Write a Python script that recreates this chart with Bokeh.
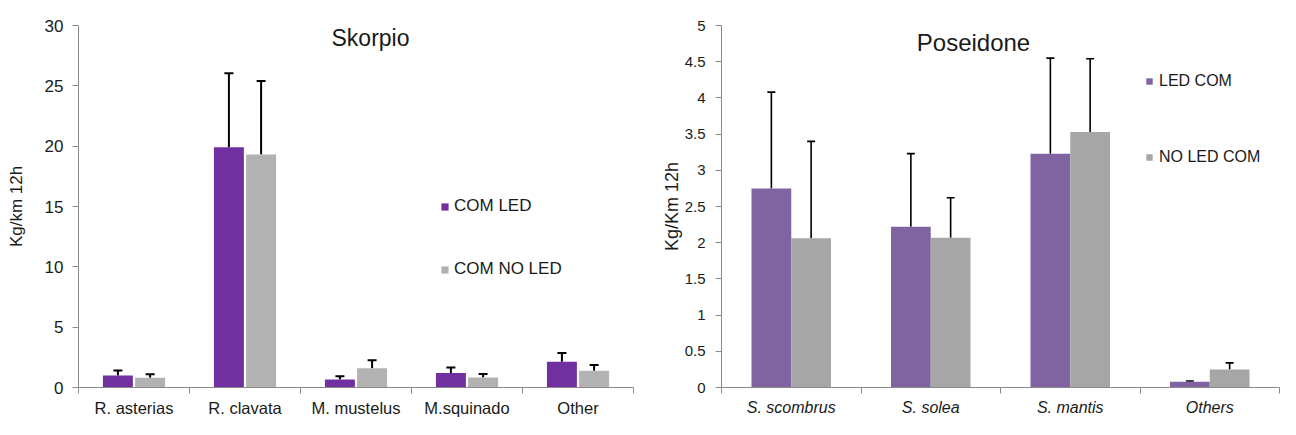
from bokeh.plotting import figure
from bokeh.layouts import row
from bokeh.models import (ColumnDataSource, FactorRange, Range1d, LinearAxis,
                          FixedTicker, Whisker, TeeHead, Legend, LegendItem, Label)
from bokeh.transform import dodge
from bokeh.embed import file_html
from bokeh.resources import INLINE

# ---------------- data: Skorpio ----------------
sk_species = ["R. asterias", "R. clavata", "M. mustelus", "M.squinado", "Other"]
sk_led = [1.0, 19.9, 0.66, 1.2, 2.14]
sk_led_err = [0.4, 6.15, 0.28, 0.45, 0.72]
sk_noled = [0.8, 19.3, 1.6, 0.82, 1.38]
sk_noled_err = [0.3, 6.1, 0.66, 0.3, 0.48]
sk_yticks = [0, 5, 10, 15, 20, 25, 30]
sk_series = ["COM LED", "COM NO LED"]

# ---------------- data: Poseidone ----------------
po_species = ["S. scombrus", "S. solea", "S. mantis", "Others"]
po_led = [2.75, 2.22, 3.23, 0.08]
po_led_err = [1.33, 1.01, 1.32, 0.01]
po_noled = [2.06, 2.07, 3.53, 0.25]
po_noled_err = [1.34, 0.55, 1.01, 0.09]
po_yticks = [0, 0.5, 1, 1.5, 2, 2.5, 3, 3.5, 4, 4.5, 5]
po_series = ["LED COM", "NO LED COM"]


def make_chart(species, a, a_err, b, b_err, yticks, series, title, cfg):
    src = ColumnDataSource(dict(
        cat=species, a=a, b=b,
        a_up=[v + e for v, e in zip(a, a_err)],
        b_up=[v + e for v, e in zip(b, b_err)],
    ))
    n = len(species)
    p = figure(width=cfg["width"], height=cfg["height"],
               x_range=FactorRange(factors=species, range_padding=0),
               y_range=Range1d(yticks[0], yticks[-1]),
               x_axis_location=None, output_backend="svg", toolbar_location=None,
               min_border_left=cfg["bl"], min_border_right=cfg["br"],
               min_border_top=cfg["bt"], min_border_bottom=cfg["bb"])
    p.outline_line_color = None
    p.xgrid.grid_line_color = None
    p.ygrid.grid_line_color = None
    p.background_fill_color = "white"
    p.border_fill_color = "white"

    off = cfg["off"]
    ra = p.vbar(x=dodge("cat", -off, range=p.x_range), top="a", width=cfg["bw"], source=src,
                fill_color=cfg["ca"], line_color=None)
    rb = p.vbar(x=dodge("cat", off, range=p.x_range), top="b", width=cfg["bw"], source=src,
                fill_color=cfg["cb"], line_color=None)

    for d, lo, up in ((-off, "a", "a_up"), (off, "b", "b_up")):
        w = Whisker(source=src, base=dodge("cat", d, range=p.x_range), lower=lo, upper=up,
                    dimension="height", line_color="black", line_width=cfg["elw"],
                    lower_head=None,
                    upper_head=TeeHead(size=cfg["cap"], line_color="black", line_width=cfg["elw"]))
        p.add_layout(w)

    axis_col = "#8a8a8a"
    txt_col = "#1a1a1a"

    yax = p.yaxis[0]
    yax.ticker = FixedTicker(ticks=yticks)
    yax.major_label_overrides = {t: f"{t:g}" for t in yticks}
    yax.minor_tick_line_color = None
    yax.major_tick_in = 0
    yax.major_tick_out = 6
    yax.axis_line_color = axis_col
    yax.major_tick_line_color = axis_col
    yax.major_label_text_font = "Liberation Sans"
    yax.major_label_text_font_size = cfg["tick_size"]
    yax.major_label_text_color = txt_col
    yax.major_label_standoff = cfg["ystand"]
    yax.axis_label = cfg["ylabel"]
    yax.axis_label_text_font = "Liberation Sans"
    yax.axis_label_text_font_style = "normal"
    yax.axis_label_text_font_size = cfg["ylab_size"]
    yax.axis_label_text_color = txt_col
    yax.axis_label_standoff = cfg["ylab_stand"]

    # x axis on the categories' synthetic coordinates: names at centres, ticks at boundaries
    centres = [i + 0.5 for i in range(n)]
    bounds = list(range(n + 1))
    xax = LinearAxis(ticker=FixedTicker(ticks=centres, minor_ticks=bounds),
                     major_label_overrides={c: s for c, s in zip(centres, species)},
                     major_tick_in=0, major_tick_out=0, major_tick_line_color=None,
                     minor_tick_in=0, minor_tick_out=6, minor_tick_line_color=axis_col,
                     axis_line_color=axis_col, major_label_standoff=cfg["xstand"],
                     major_label_text_font="Liberation Sans",
                     major_label_text_font_size=cfg["cat_size"],
                     major_label_text_font_style=cfg["cat_style"],
                     major_label_text_color=txt_col)
    p.add_layout(xax, "below")

    p.add_layout(Label(x=cfg["tx"], y=cfg["ty"], x_units="screen", y_units="screen", text=title,
                       text_align="center", text_baseline="middle", text_font="Liberation Sans",
                       text_font_size=cfg["title_size"], text_color=txt_col))

    legend = Legend(items=[LegendItem(label=series[0], renderers=[ra]),
                           LegendItem(label=series[1], renderers=[rb])],
                    location=cfg["lloc"], orientation="vertical", padding=0, margin=0,
                    spacing=cfg["lspace"], label_height=20, label_standoff=cfg["lstand"],
                    glyph_width=cfg["gsz"], glyph_height=cfg["gsz"],
                    label_text_font="Liberation Sans", label_text_font_size=cfg["leg_size"],
                    label_text_color=txt_col, border_line_color=None,
                    background_fill_alpha=0)
    p.add_layout(legend)
    return p


left = make_chart(sk_species, sk_led, sk_led_err, sk_noled, sk_noled_err, sk_yticks, sk_series,
                  "Skorpio",
                  dict(width=640, height=419, bl=78, br=7, bt=25, bb=31,
                       off=0.145, bw=0.27, ca="#7030A0", cb="#B2B2B2", elw=2, cap=9,
                       tick_size="17px", ystand=9,
                       ylabel="Kg/km 12h", ylab_size="17px", ylab_stand=16,
                       xstand=5, cat_size="16.5px", cat_style="normal",
                       tx=292, ty=350, title_size="23px",
                       lloc=(362, 108), lspace=43, lstand=5, gsz=9,
                       leg_size="17px"))

right = make_chart(po_species, po_led, po_led_err, po_noled, po_noled_err, po_yticks, po_series,
                   "Poseidone",
                   dict(width=640, height=419, bl=81, br=1, bt=25, bb=31,
                        off=0.1425, bw=0.285, ca="#8064A2", cb="#A6A6A6", elw=1.6, cap=8,
                        tick_size="15px", ystand=10,
                        ylabel="Kg/Km 12h", ylab_size="18px", ylab_stand=0,
                        xstand=5, cat_size="16px", cat_style="italic",
                        tx=252, ty=345, title_size="24px",
                        lloc=(424, 220), lspace=56, lstand=6, gsz=8,
                        leg_size="16px"))

layout = row(left, right)
open("out.html", "w").write(file_html(layout, INLINE))
